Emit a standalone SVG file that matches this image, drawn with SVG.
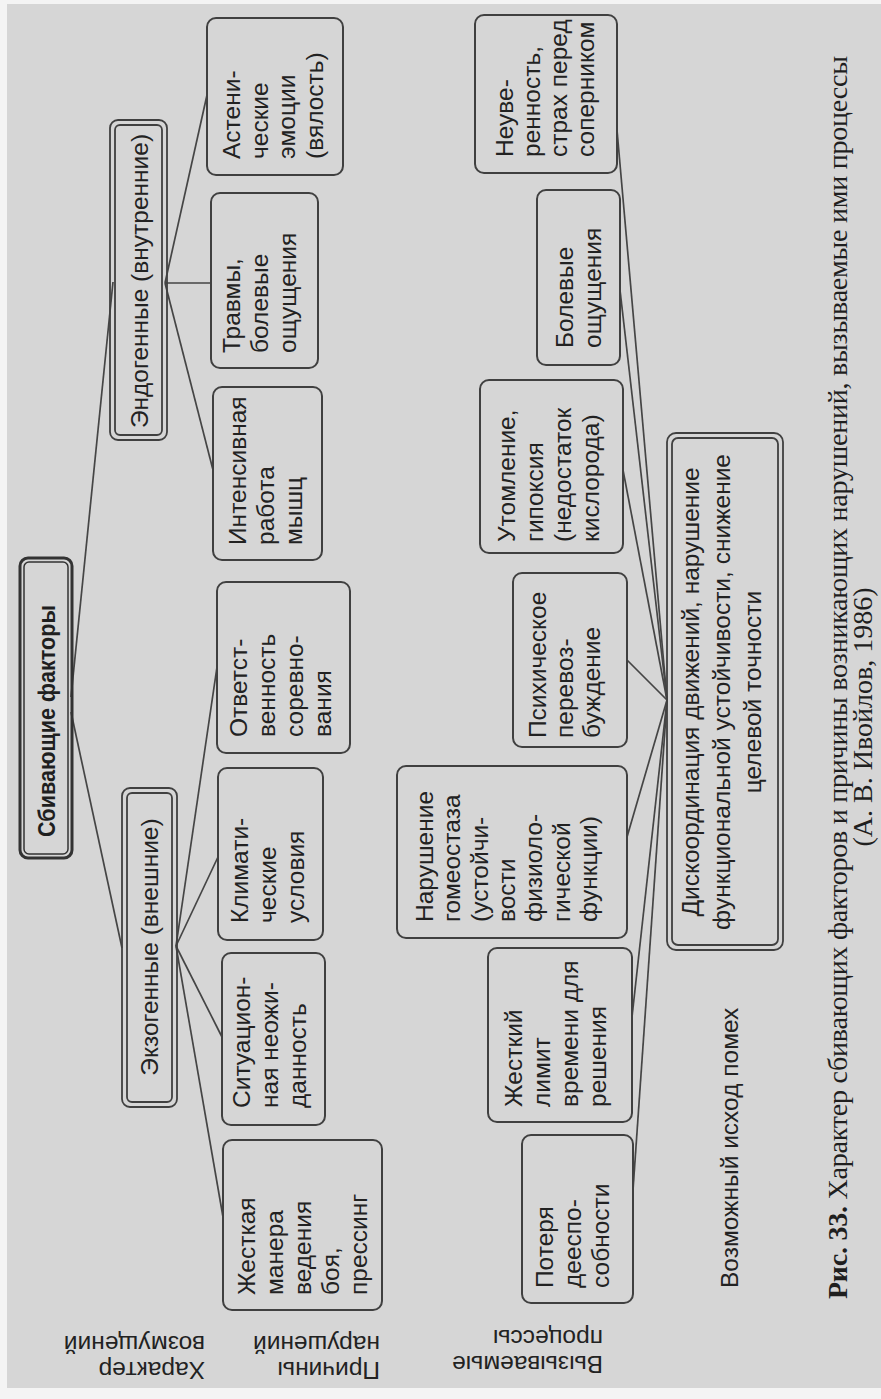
<svg xmlns="http://www.w3.org/2000/svg" width="881" height="1399" viewBox="0 0 881 1399">
<style>
.bg{fill:#d6d6d6}
.box{fill:none;stroke:#404040;stroke-width:2}
.dbl{fill:none;stroke:#404040;stroke-width:1.8}
.t{font-family:"Liberation Sans",Arial,sans-serif;font-size:24.5px;fill:#222}
.tb{font-family:"Liberation Sans",Arial,sans-serif;font-size:23px;font-weight:bold;fill:#1f1f1f}
.cap{font-family:"Liberation Serif","Times New Roman",serif;font-size:28px;fill:#1f1f1f}
.conn path{fill:none;stroke:#454545;stroke-width:1.7}
</style>
<rect x="0" y="0" width="881" height="1399" fill="#f4f4f4"/>
<rect class="bg" x="7" y="4" width="874" height="1384"/>

<g class="conn" id="connectors">
<path d="M71,697 L113,282"/>
<path d="M71,712 L122,948"/>
<path d="M165,283 L207,95"/>
<path d="M165,283 L211,283"/>
<path d="M165,283 L213,470"/>
<path d="M176,946 L217,667"/>
<path d="M176,946 L218,857"/>
<path d="M176,946 L222,1037"/>
<path d="M176,946 L223,1217"/>
<path d="M617,130 L667,700"/>
<path d="M620,290 L667,700"/>
<path d="M623,470 L667,700"/>
<path d="M627,660 L667,700"/>
<path d="M627,837 L667,700"/>
<path d="M632,1017 L667,700"/>
<path d="M633,1190 L667,700"/>
</g>

<g id="sbivayushchie">
<rect x="20" y="558" width="52" height="300" rx="8" fill="none" stroke="#333" stroke-width="3"/>
<rect x="24" y="562" width="44" height="292" rx="5" fill="none" stroke="#333" stroke-width="1.5"/>
<text class="tb" transform="translate(55,721) rotate(-90)" text-anchor="middle" textLength="232" lengthAdjust="spacingAndGlyphs">Сбивающие факторы</text>
</g>

<g id="endogennye">
<rect class="dbl" x="110" y="120" width="57" height="320" rx="8"/>
<rect class="dbl" x="115" y="125" width="47" height="310" rx="5"/>
<text class="t" transform="translate(147.5,281) rotate(-90)" text-anchor="middle">Эндогенные (внутренние)</text>
</g>

<g id="ekzogennye">
<rect class="dbl" x="122" y="788" width="55" height="319" rx="8"/>
<rect class="dbl" x="127" y="793" width="45" height="309" rx="5"/>
<text class="t" transform="translate(158,947) rotate(-90)" text-anchor="middle">Экзогенные (внешние)</text>
</g>

<g id="astenicheskie">
<rect class="box" x="207" y="18" width="136" height="157" rx="9"/>
<text class="t" transform="translate(240,159) rotate(-90)"><tspan x="0" y="0">Астени-</tspan><tspan x="0" y="27.5">ческие</tspan><tspan x="0" y="55">эмоции</tspan><tspan x="0" y="83">(вялость)</tspan></text>
</g>

<g id="travmy">
<rect class="box" x="211" y="193" width="107" height="175" rx="9"/>
<text class="t" transform="translate(240,353) rotate(-90)"><tspan x="0" y="0">Травмы,</tspan><tspan x="0" y="28">болевые</tspan><tspan x="0" y="56">ощущения</tspan></text>
</g>

<g id="intensivnaya">
<rect class="box" x="213" y="387" width="109" height="173" rx="9"/>
<text class="t" transform="translate(246,545) rotate(-90)"><tspan x="0" y="0">Интенсивная</tspan><tspan x="0" y="28">работа</tspan><tspan x="0" y="56">мышц</tspan></text>
</g>

<g id="otvetstvennost">
<rect class="box" x="217" y="582" width="133" height="171" rx="9"/>
<text class="t" transform="translate(247,737) rotate(-90)"><tspan x="0" y="0">Ответст-</tspan><tspan x="0" y="28">венность</tspan><tspan x="0" y="56">соревно-</tspan><tspan x="0" y="84">вания</tspan></text>
</g>

<g id="klimaticheskie">
<rect class="box" x="218" y="768" width="105" height="172" rx="9"/>
<text class="t" transform="translate(248,923) rotate(-90)"><tspan x="0" y="0">Климати-</tspan><tspan x="0" y="28">ческие</tspan><tspan x="0" y="56">условия</tspan></text>
</g>

<g id="situatsionnaya">
<rect class="box" x="222" y="953" width="103" height="172" rx="9"/>
<text class="t" transform="translate(250,1108) rotate(-90)"><tspan x="0" y="0">Ситуацион-</tspan><tspan x="0" y="28">ная неожи-</tspan><tspan x="0" y="56">данность</tspan></text>
</g>

<g id="zhestkaya-manera">
<rect class="box" x="223" y="1140" width="159" height="170" rx="9"/>
<text class="t" transform="translate(255,1295) rotate(-90)"><tspan x="0" y="0">Жесткая</tspan><tspan x="0" y="28">манера</tspan><tspan x="0" y="56">ведения</tspan><tspan x="0" y="84">боя,</tspan><tspan x="0" y="112">прессинг</tspan></text>
</g>

<g id="neuverennost">
<rect class="box" x="475" y="15" width="142" height="158" rx="9"/>
<text class="t" transform="translate(513,157) rotate(-90)"><tspan x="0" y="0">Неуве-</tspan><tspan x="0" y="27">ренность,</tspan><tspan x="0" y="54">страх перед</tspan><tspan x="0" y="81">соперником</tspan></text>
</g>

<g id="bolevye">
<rect class="box" x="537" y="190" width="83" height="175" rx="9"/>
<text class="t" transform="translate(573,348) rotate(-90)"><tspan x="0" y="0">Болевые</tspan><tspan x="0" y="28">ощущения</tspan></text>
</g>

<g id="utomlenie">
<rect class="box" x="480" y="380" width="143" height="173" rx="9"/>
<text class="t" transform="translate(515,542) rotate(-90)"><tspan x="0" y="0">Утомление,</tspan><tspan x="0" y="28">гипоксия</tspan><tspan x="0" y="56">(недостаток</tspan><tspan x="0" y="84">кислорода)</tspan></text>
</g>

<g id="psikhicheskoe">
<rect class="box" x="513" y="573" width="114" height="174" rx="9"/>
<text class="t" transform="translate(546,738) rotate(-90)"><tspan x="0" y="0">Психическое</tspan><tspan x="0" y="27">перевоз-</tspan><tspan x="0" y="54">буждение</tspan></text>
</g>

<g id="narushenie-gomeostaza">
<rect class="box" x="397" y="766" width="230" height="172" rx="9"/>
<text class="t" transform="translate(433,922) rotate(-90)"><tspan x="0" y="0">Нарушение</tspan><tspan x="0" y="27.3">гомеостаза</tspan><tspan x="0" y="54.7">(устойчи-</tspan><tspan x="0" y="82">вости</tspan><tspan x="0" y="109.3">физиоло-</tspan><tspan x="0" y="136.7">гической</tspan><tspan x="0" y="164">функции)</tspan></text>
</g>

<g id="zhestkiy-limit">
<rect class="box" x="488" y="948" width="144" height="174" rx="9"/>
<text class="t" transform="translate(522,1107) rotate(-90)"><tspan x="0" y="0">Жесткий</tspan><tspan x="0" y="28">лимит</tspan><tspan x="0" y="56">времени для</tspan><tspan x="0" y="84">решения</tspan></text>
</g>

<g id="poterya">
<rect class="box" x="522" y="1135" width="111" height="168" rx="9"/>
<text class="t" transform="translate(553,1288) rotate(-90)"><tspan x="0" y="0">Потеря</tspan><tspan x="0" y="28">дееспо-</tspan><tspan x="0" y="56">собности</tspan></text>
</g>

<g id="diskoordinatsiya">
<rect class="dbl" x="667" y="433" width="116" height="517" rx="9"/>
<rect class="dbl" x="672" y="438" width="106" height="507" rx="6"/>
<text class="t" transform="translate(699,692) rotate(-90)" text-anchor="middle"><tspan x="0" y="0">Дискоординация движений, нарушение</tspan><tspan x="0" y="31">функциональной устойчивости, снижение</tspan><tspan x="0" y="62">целевой точности</tspan></text>
</g>

<g id="labels">
<text class="t" transform="translate(738,1288) rotate(-90)">Возможный исход помех</text>
<text class="t" transform="translate(205,1362) rotate(180)"><tspan x="0" y="0">Характер</tspan><tspan x="0" y="26">возмущений</tspan></text>
<text class="t" transform="translate(380,1362) rotate(180)"><tspan x="0" y="0">Причины</tspan><tspan x="0" y="26">нарушений</tspan></text>
<text class="t" transform="translate(603,1356) rotate(180)"><tspan x="0" y="0">Вызываемые</tspan><tspan x="0" y="26">процессы</tspan></text>
</g>

<g id="caption">
<text class="cap" transform="translate(847,1299) rotate(-90)" textLength="1243" lengthAdjust="spacing"><tspan font-weight="bold">Рис. 33.</tspan> Характер сбивающих факторов и причины возникающих нарушений, вызываемые ими процессы</text>
<text class="cap" transform="translate(872,717) rotate(-90)" text-anchor="middle">(А. В. Ивойлов, 1986)</text>
</g>
</svg>
